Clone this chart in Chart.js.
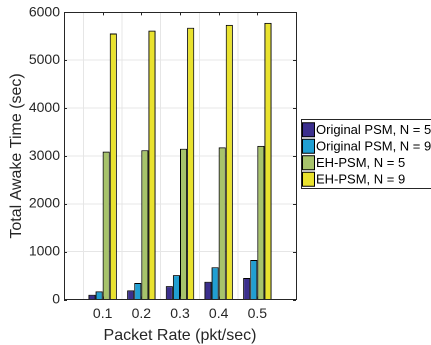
<!DOCTYPE html>
<html>
<head>
<meta charset="utf-8">
<script src="https://cdn.jsdelivr.net/npm/chart.js@4.4.0/dist/chart.umd.min.js"></script>
<style>
  html, body { margin: 0; padding: 0; background: #fff; overflow: hidden; }
  #wrap { width: 431px; height: 345px; }
</style>
</head>
<body>
<div id="wrap"><canvas id="my-chart" width="431" height="345"></canvas></div>
<script>
// data
var packetRates = ['0.1', '0.2', '0.3', '0.4', '0.5'];
var seriesNames = ['Original PSM, N = 5', 'Original PSM, N = 9', 'EH-PSM, N = 5', 'EH-PSM, N = 9'];
var origN5 = [100, 190, 280, 370, 450];
var origN9 = [170, 345, 510, 675, 825];
var ehN5 = [3090, 3120, 3150, 3180, 3210];
var ehN9 = [5560, 5620, 5680, 5740, 5780];
var yTicks = [0, 1000, 2000, 3000, 4000, 5000, 6000];
var barColors = ['#3b2f8d', '#219fd2', '#a7c36b', '#e9e22e'];

// one empty slot each side, like the matlab axis limits 0..0.6
var labels = [''].concat(packetRates).concat(['']);
function pad(arr) { return [null].concat(arr).concat([null]); }

var axisColor = '#262626';
var font = "'Liberation Sans', Arial, sans-serif";

// box around the axes with inward ticks, like matlab "box on"
var boxPlugin = {
  id: 'boxPlugin',
  afterDatasetsDraw: function(chart) {
    var ctx = chart.ctx, a = chart.chartArea;
    var xs = chart.scales.x, ys = chart.scales.y;
    ctx.save();
    ctx.strokeStyle = axisColor;
    ctx.lineWidth = 1;
    ctx.strokeRect(Math.round(a.left) + 0.5, Math.round(a.top) + 0.5,
                   Math.round(a.right - a.left), Math.round(a.bottom - a.top));
    ctx.beginPath();
    yTicks.forEach(function(v) {
      var y = Math.round(ys.getPixelForValue(v)) + 0.5;
      ctx.moveTo(a.left, y); ctx.lineTo(a.left + 3, y);
      ctx.moveTo(a.right, y); ctx.lineTo(a.right - 3, y);
    });
    packetRates.forEach(function(c, i) {
      var x = Math.round(xs.getPixelForValue(i + 1)) + 0.5;
      ctx.moveTo(x, a.bottom); ctx.lineTo(x, a.bottom - 3);
      ctx.moveTo(x, a.top); ctx.lineTo(x, a.top + 3);
    });
    ctx.stroke();
    ctx.restore();
  }
};

// legend box to the right of the axes (runs off the window edge in the original)
var legendPlugin = {
  id: 'legendPlugin',
  afterDraw: function(chart) {
    var ctx = chart.ctx;
    var x0 = 301.5, y0 = 119.5, rowH = 16.5;
    ctx.save();
    ctx.fillStyle = '#fff';
    ctx.fillRect(x0, y0, 140, 69);
    ctx.strokeStyle = axisColor;
    ctx.lineWidth = 1;
    ctx.strokeRect(x0, y0, 140, 69);
    ctx.font = '13px ' + font;
    ctx.textBaseline = 'middle';
    chart.data.datasets.forEach(function(ds, i) {
      var cy = y0 + 2 + rowH * i + rowH / 2;
      ctx.fillStyle = barColors[i];
      ctx.fillRect(302.5, cy - 7, 12, 14);
      ctx.strokeStyle = '#000';
      ctx.strokeRect(302.5, cy - 7, 12, 14);
      ctx.fillStyle = '#000';
      ctx.fillText(ds.label, 316, cy + 0.5);
    });
    ctx.restore();
  }
};

var seriesData = [origN5, origN9, ehN5, ehN9];
var ctx = document.getElementById('my-chart').getContext('2d');
var chart = new Chart(ctx, {
  type: 'bar',
  data: {
    labels: labels,
    datasets: seriesNames.map(function(name, i) {
      return {
        label: name,
        data: pad(seriesData[i]),
        backgroundColor: barColors[i],
        borderColor: '#000',
        borderWidth: 1,
        categoryPercentage: 0.735,
        barPercentage: 1.0
      };
    })
  },
  options: {
    responsive: false,
    animation: false,
    devicePixelRatio: 2,
    events: [],
    layout: { padding: { top: 7, right: 135, bottom: 0, left: 0 } },
    plugins: {
      legend: { display: false },
      tooltip: { enabled: false }
    },
    scales: {
      x: {
        offset: false,
        afterFit: function(scale) { scale.height = 45.5; },
        grid: { color: '#e6e6e6', drawTicks: false, lineWidth: function(c) { return (c.index === 0 || c.index === labels.length - 1) ? 0 : 1; } },
        border: { display: false },
        ticks: { color: axisColor, font: { family: font, size: 14 }, padding: 6, maxRotation: 0, autoSkip: false },
        title: { display: true, text: 'Packet Rate (pkt/sec)', color: axisColor, font: { family: font, size: 16 }, padding: { top: 2, bottom: 0 } }
      },
      y: {
        min: 0,
        max: 6000,
        afterFit: function(scale) { scale.width = 64; },
        afterBuildTicks: function(scale) { scale.ticks = yTicks.map(function(v) { return { value: v }; }); },
        grid: { color: '#e6e6e6', drawTicks: false },
        border: { display: false },
        ticks: { color: axisColor, font: { family: font, size: 14 }, padding: 4,
                 callback: function(v) { return String(v); } },
        title: { display: true, text: 'Total Awake Time (sec)', color: axisColor, font: { family: font, size: 16 }, padding: { top: 7, bottom: 2 } }
      }
    }
  },
  plugins: [boxPlugin, legendPlugin]
});
</script>
</body>
</html>
